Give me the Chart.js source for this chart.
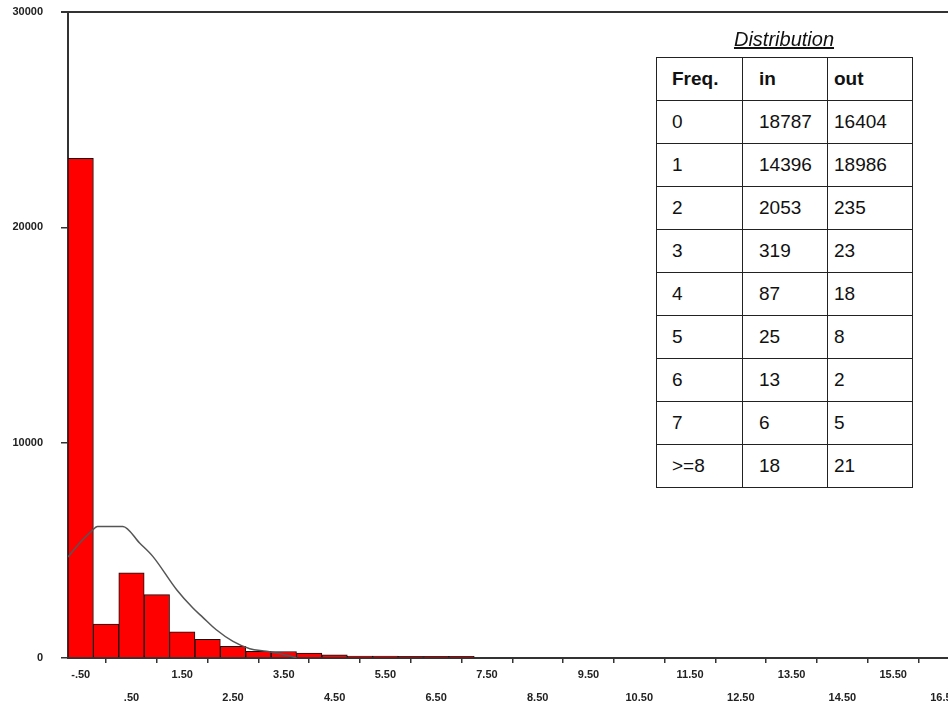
<!DOCTYPE html>
<html>
<head>
<meta charset="utf-8">
<script src="https://cdn.jsdelivr.net/npm/chart.js@4/dist/chart.umd.min.js"></script>
<style>
  html, body { margin: 0; padding: 0; background: #fff; }
  #wrap { position: relative; width: 948px; height: 706px; overflow: hidden; }
  #chart { position: absolute; left: 0; top: 0; }
  #distTitle {
    position: absolute; left: 656px; top: 28px; width: 256px;
    text-align: center; font: italic 20px "Liberation Sans", Arial, sans-serif;
    text-decoration: underline; color: #111;
  }
  #dist {
    position: absolute; left: 656px; top: 57px; width: 256px;
    border-collapse: collapse; table-layout: fixed;
    font: 19px "Liberation Sans", Arial, sans-serif; color: #111; background: #fff;
  }
  #dist td { border: 1.5px solid #222; height: 42px; padding: 0; vertical-align: middle; }
  #dist th { border: 1.5px solid #222; height: 42px; padding: 0; text-align: left; font-weight: bold; }
  #dist .c1 { padding-left: 15px; }
  #dist .c2 { padding-left: 16px; }
  #dist .c3 { padding-left: 6px; }
</style>
</head>
<body>
<div id="wrap">
  <canvas id="chart" width="948" height="706"></canvas>
  <div id="distTitle">Distribution</div>
  <table id="dist">
    <colgroup><col style="width:86px"><col style="width:85px"><col style="width:85px"></colgroup>
    <tbody id="distBody"></tbody>
  </table>
</div>
<script>
'use strict';

// histogram bins (bin centre) and counts
const binCenters = [-0.5, 0, 0.5, 1, 1.5, 2, 2.5, 3, 3.5, 4, 4.5, 5, 5.5, 6, 6.5, 7];
const binCounts = [23210, 1580, 3950, 2940, 1220, 870, 540, 310, 300, 230, 150, 90, 90, 80, 80, 80];

// fitted curve
const curveX = [-0.75, -0.52, -0.29, -0.17, 0.08, 0.33, 0.66, 0.92, 1.39, 1.71, 1.9, 2.17, 2.5, 2.83, 3.16, 3.62, 3.75];
const curveY = [4690, 5340, 5880, 6110, 6110, 6110, 5340, 4720, 3170, 2320, 1900, 1310, 770, 430, 310, 90, 0];

// axis ticks
const xTickValues = [-0.5, 0.5, 1.5, 2.5, 3.5, 4.5, 5.5, 6.5, 7.5, 8.5, 9.5, 10.5, 11.5, 12.5, 13.5, 14.5, 15.5, 16.5];
const yTickValues = [0, 10000, 20000, 30000];

// table
const tableHeader = ['Freq.', 'in', 'out'];
const freqLabels = ['0', '1', '2', '3', '4', '5', '6', '7', '>=8'];
const inCounts = [18787, 14396, 2053, 319, 87, 25, 13, 6, 18];
const outCounts = [16404, 18986, 235, 23, 18, 8, 2, 5, 21];

// build the table
let body = document.getElementById('distBody');
let hr = document.createElement('tr');
tableHeader.forEach((h, i) => {
    let th = document.createElement('th');
    th.className = 'c' + (i + 1);
    th.textContent = h;
    hr.appendChild(th);
});
body.appendChild(hr);
freqLabels.forEach((f, i) => {
    let tr = document.createElement('tr');
    [f, inCounts[i], outCounts[i]].forEach((v, j) => {
        let td = document.createElement('td');
        td.className = 'c' + (j + 1);
        td.textContent = v;
        tr.appendChild(td);
    });
    body.appendChild(tr);
});

function fmtTick(v) {
    return v.toFixed(2).replace(/^(-?)0\./, '$1.');
}

// top frame line
const topLine = {
    id: 'topLine',
    afterDraw(chart) {
        let ctx = chart.ctx, a = chart.chartArea;
        ctx.save();
        ctx.strokeStyle = '#333';
        ctx.lineWidth = 2;
        ctx.beginPath();
        ctx.moveTo(a.left - 7, a.top);
        ctx.lineTo(a.right, a.top);
        ctx.stroke();
        ctx.restore();
    }
};

let ctx = document.getElementById('chart').getContext('2d');
new Chart(ctx, {
    type: 'bar',
    data: {
        datasets: [
            {
                type: 'line',
                data: curveX.map((x, i) => ({ x: x, y: curveY[i] })),
                borderColor: '#555',
                borderWidth: 1.5,
                pointRadius: 0,
                cubicInterpolationMode: 'monotone',
                fill: false
            },
            {
                type: 'bar',
                data: binCenters.map((x, i) => ({ x: x, y: binCounts[i] })),
                backgroundColor: '#ff0000',
                borderColor: '#111',
                borderWidth: 1,
                barPercentage: 1,
                categoryPercentage: 1,
                grouped: false
            }
        ]
    },
    options: {
        responsive: false,
        animation: false,
        devicePixelRatio: 1,
        layout: { padding: { top: 12, right: 0, bottom: 0, left: 0 } },
        plugins: { legend: { display: false }, tooltip: { enabled: false } },
        scales: {
            x: {
                type: 'linear',
                min: -0.75,
                max: 16.58,
                offset: false,
                grid: { drawOnChartArea: false, drawTicks: true, tickLength: 5, color: '#333', lineWidth: 1.5 },
                border: { color: '#333', width: 2 },
                ticks: {
                    padding: 0,
                    autoSkip: false,
                    maxRotation: 0,
                    color: '#222',
                    font: { family: 'Liberation Sans', size: 11, weight: 'bold', lineHeight: 23 / 11 },
                    callback: (value, index) => index % 2 === 0 ? [fmtTick(value)] : ['', fmtTick(value)]
                },
                afterBuildTicks: scale => { scale.ticks = xTickValues.map(v => ({ value: v })); },
                afterFit: scale => { scale.paddingLeft = 0; scale.paddingRight = 0; scale.height = 48; }
            },
            y: {
                min: 0,
                max: 30000,
                grid: { drawOnChartArea: false, drawTicks: true, tickLength: 7, color: '#333', lineWidth: 1.5 },
                border: { color: '#333', width: 2 },
                ticks: {
                    padding: 18,
                    color: '#222',
                    font: { family: 'Liberation Sans', size: 11, weight: 'bold' },
                    callback: value => String(value)
                },
                afterBuildTicks: scale => { scale.ticks = yTickValues.map(v => ({ value: v })); },
                afterFit: scale => { scale.paddingTop = 0; scale.paddingBottom = 0; scale.width = 68; }
            }
        }
    },
    plugins: [topLine]
});
</script>
</body>
</html>
